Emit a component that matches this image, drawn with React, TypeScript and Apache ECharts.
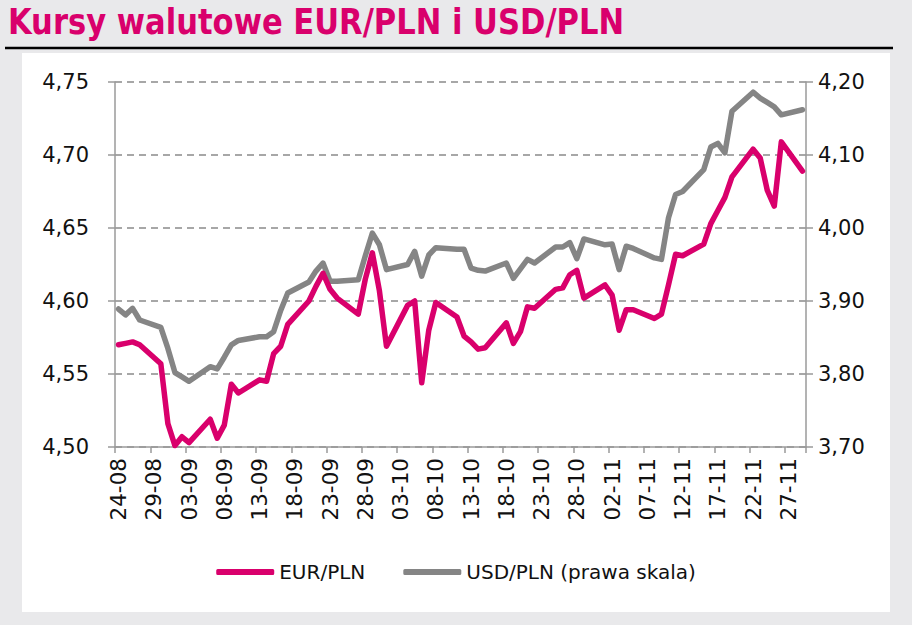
import React, { useEffect, useRef } from 'react';
import * as echarts from 'echarts';

// Business days (DD-MM, 2021) and quotes
const businessDays = [
  '24-08','25-08','26-08','27-08','30-08','31-08','01-09','02-09','03-09',
  '06-09','07-09','08-09','09-09','10-09','13-09','14-09','15-09','16-09','17-09',
  '20-09','21-09','22-09','23-09','24-09','27-09','28-09','29-09','30-09','01-10',
  '04-10','05-10','06-10','07-10','08-10','11-10','12-10','13-10','14-10','15-10',
  '18-10','19-10','20-10','21-10','22-10','25-10','26-10','27-10','28-10','29-10',
  '01-11','02-11','03-11','04-11','05-11','08-11','09-11','10-11','11-11','12-11',
  '15-11','16-11','17-11','18-11','19-11','22-11','23-11','24-11','25-11','26-11','29-11'
];

const eurPln = [
  4.570,4.571,4.572,4.570,4.557,4.516,4.501,4.507,4.503,
  4.519,4.506,4.515,4.543,4.537,4.546,4.545,4.564,4.569,4.584,
  4.600,4.610,4.619,4.608,4.602,4.591,4.615,4.633,4.607,4.569,
  4.597,4.600,4.544,4.580,4.599,4.589,4.576,4.572,4.567,4.568,
  4.585,4.571,4.579,4.596,4.595,4.608,4.609,4.618,4.621,4.602,
  4.611,4.604,4.580,4.594,4.594,4.588,4.591,4.611,4.632,4.631,
  4.639,4.653,4.662,4.671,4.685,4.704,4.698,4.676,4.665,4.709,4.689
];

const usdPln = [
  3.889,3.881,3.890,3.874,3.864,3.835,3.802,3.796,3.790,
  3.810,3.807,3.823,3.840,3.846,3.851,3.851,3.858,3.887,3.911,
  3.926,3.941,3.952,3.927,3.927,3.929,3.962,3.993,3.977,3.943,
  3.950,3.968,3.934,3.963,3.973,3.971,3.971,3.945,3.942,3.941,
  3.952,3.931,3.944,3.957,3.952,3.974,3.974,3.980,3.958,3.985,
  3.977,3.978,3.943,3.975,3.972,3.959,3.957,4.014,4.046,4.050,
  4.080,4.111,4.116,4.103,4.160,4.186,4.178,4.172,4.166,4.155,4.162
];

const leftAxis = { min: 4.5, max: 4.75, interval: 0.05 };
const rightAxis = { min: 3.7, max: 4.2, interval: 0.1 };

const seriesNames = ['EUR/PLN', 'USD/PLN (prawa skala)'];
const titleText = 'Kursy walutowe EUR/PLN i USD/PLN';

function buildCalendar(): string[] {
  const out: string[] = [];
  const d = new Date(Date.UTC(2021, 7, 24));
  const end = Date.UTC(2021, 10, 29);
  const pad = (n: number) => (n < 10 ? '0' + n : '' + n);
  while (d.getTime() <= end) {
    out.push(pad(d.getUTCDate()) + '-' + pad(d.getUTCMonth() + 1));
    d.setUTCDate(d.getUTCDate() + 1);
  }
  return out;
}

const PINK = '#d9006c';
const GREY = '#858585';
const AXIS = '#9a9a9a';
const FONT = 'DejaVu Sans';

export default function App() {
  const ref = useRef<HTMLDivElement>(null);
  useEffect(() => {
    if (!ref.current) return;
    const chart = echarts.init(ref.current, null, { renderer: 'svg' });
    const cats = buildCalendar();
    const eurMap: Record<string, number> = {};
    const usdMap: Record<string, number> = {};
    businessDays.forEach((k, i) => { eurMap[k] = eurPln[i]; usdMap[k] = usdPln[i]; });
    const eurData = cats.map((c) => (c in eurMap ? eurMap[c] : null));
    const usdData = cats.map((c) => (c in usdMap ? usdMap[c] : null));
    const fmt = (v: number) => v.toFixed(2).replace('.', ',');

    chart.setOption({
      animation: false,
      backgroundColor: '#e9e9eb',
      graphic: [
        { type: 'rect', z: -10, shape: { x: 22, y: 53, width: 868, height: 559 }, style: { fill: '#ffffff' } },
        { type: 'line', z: 10, shape: { x1: 5, y1: 48, x2: 893, y2: 48 }, style: { stroke: '#000000', lineWidth: 2.5 } },
        {
          type: 'text', z: 10, x: 8, y: 3, scaleX: 0.945,
          style: {
            text: titleText, fill: PINK,
            font: 'bold 36px "DejaVu Sans Condensed"',
            textVerticalAlign: 'top',
          },
        },
      ],
      legend: {
        data: seriesNames,
        top: 557,
        left: 'center',
        icon: 'roundRect',
        itemWidth: 58,
        itemHeight: 6,
        itemGap: 38,
        textStyle: { fontFamily: FONT, fontSize: 20, color: '#111' },
      },
      grid: { left: 115, right: 106, top: 82, bottom: 178 },
      xAxis: {
        type: 'category',
        data: cats,
        boundaryGap: true,
        axisLine: { lineStyle: { color: AXIS, width: 1.5 } },
        axisTick: { show: true, interval: 4, length: 6, lineStyle: { color: AXIS, width: 1.5 } },
        axisLabel: { interval: 4, rotate: 90, margin: 11, fontFamily: FONT, fontSize: 21.5, color: '#111' },
        splitLine: { show: false },
      },
      yAxis: [
        {
          type: 'value',
          position: 'left',
          min: leftAxis.min,
          max: leftAxis.max,
          interval: leftAxis.interval,
          axisLine: { show: true, lineStyle: { color: AXIS, width: 1.5 } },
          axisTick: { show: true, length: 7, lineStyle: { color: AXIS, width: 1.5 } },
          axisLabel: { formatter: fmt, margin: 26, fontFamily: FONT, fontSize: 21, color: '#111' },
          splitLine: { show: true, lineStyle: { color: '#8a8a8a', width: 1.5, type: [7, 5] } },
        },
        {
          type: 'value',
          position: 'right',
          min: rightAxis.min,
          max: rightAxis.max,
          interval: rightAxis.interval,
          axisLine: { show: true, lineStyle: { color: AXIS, width: 1.5 } },
          axisTick: { show: true, length: 7, lineStyle: { color: AXIS, width: 1.5 } },
          axisLabel: { formatter: fmt, margin: 12, fontFamily: FONT, fontSize: 21, color: '#111' },
          splitLine: { show: false },
        },
      ],
      series: [
        {
          name: seriesNames[1],
          type: 'line',
          yAxisIndex: 1,
          data: usdData,
          connectNulls: true,
          showSymbol: false,
          symbol: 'none',
          lineStyle: { color: GREY, width: 5.5, cap: 'round', join: 'round' },
          itemStyle: { color: GREY },
          z: 2,
        },
        {
          name: seriesNames[0],
          type: 'line',
          yAxisIndex: 0,
          data: eurData,
          connectNulls: true,
          showSymbol: false,
          symbol: 'none',
          lineStyle: { color: PINK, width: 5.5, cap: 'round', join: 'round' },
          itemStyle: { color: PINK },
          z: 3,
        },
      ],
    });
    return () => chart.dispose();
  }, []);
  return <div ref={ref} style={{ position: 'absolute', left: 0, top: 0, width: 912, height: 625 }} />;
}
